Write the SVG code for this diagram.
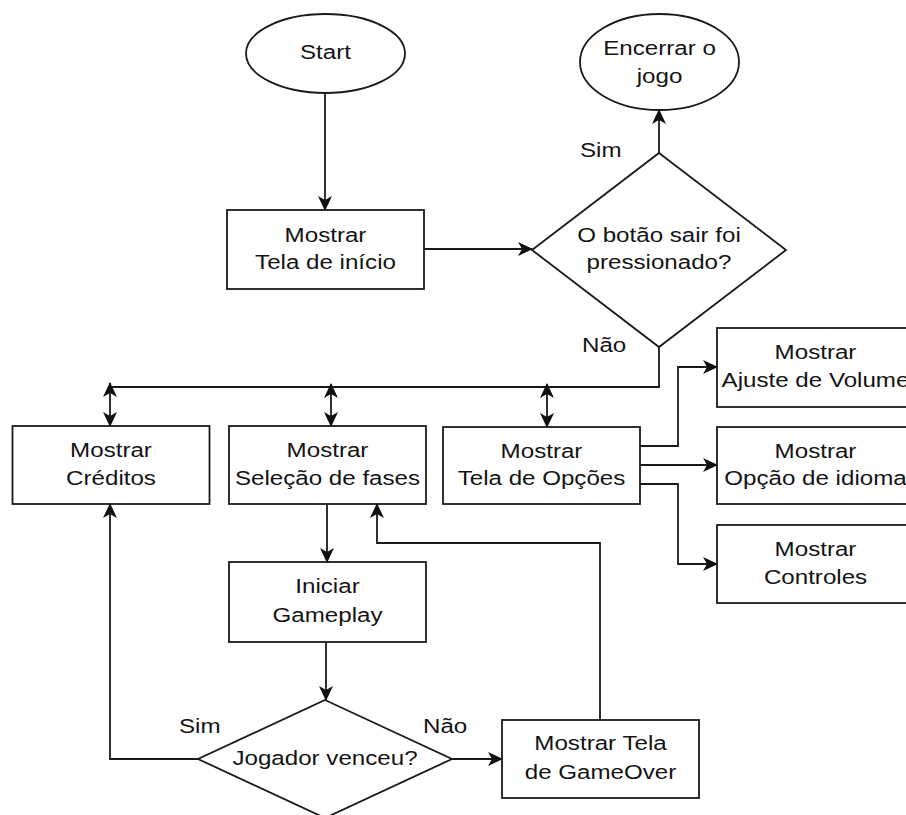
<svg xmlns="http://www.w3.org/2000/svg" width="906" height="815" viewBox="0 0 906 815">
  <style>
    .shape { fill: #ffffff; stroke: #1a1a1a; stroke-width: 1.8; }
    .edge { fill: none; stroke: #1a1a1a; stroke-width: 1.8; }
    .t { font-family: "Liberation Sans", Arial, sans-serif; font-size: 21px; fill: #141414; text-anchor: middle; }
    .lbl { font-family: "Liberation Sans", Arial, sans-serif; font-size: 21px; fill: #141414; }
  </style>
  <defs>
    <!-- classic filled arrowhead with a notched back -->
    <marker id="arrow" markerUnits="userSpaceOnUse" markerWidth="18" markerHeight="16" refX="14" refY="7" orient="auto-start-reverse" viewBox="0 0 18 16">
      <path d="M0,0 L15,7 L0,14 L4,7 Z" fill="#111111"/>
    </marker>
  </defs>

  <rect width="906" height="815" fill="#ffffff"/>

  <!-- connectors -->
  <g id="connectors">
    <path class="edge" d="M325,93 V210" marker-end="url(#arrow)"/>
    <path class="edge" d="M424,249 H532" marker-end="url(#arrow)"/>
    <path class="edge" d="M659,153 V110" marker-end="url(#arrow)"/>
    <path class="edge" d="M659,347 V387 H110"/>
    <path class="edge" d="M110,383 V426" marker-start="url(#arrow)" marker-end="url(#arrow)"/>
    <path class="edge" d="M331,384 V426" marker-start="url(#arrow)" marker-end="url(#arrow)"/>
    <path class="edge" d="M547,384 V427" marker-start="url(#arrow)" marker-end="url(#arrow)"/>
    <path class="edge" d="M327,504 V562" marker-end="url(#arrow)"/>
    <path class="edge" d="M326,642 V700" marker-end="url(#arrow)"/>
    <path class="edge" d="M198,759 H110 V504" marker-end="url(#arrow)"/>
    <path class="edge" d="M452,759 H502" marker-end="url(#arrow)"/>
    <path class="edge" d="M600,720 V543 H377 V504" marker-end="url(#arrow)"/>
    <path class="edge" d="M640,446 H678 V367 H717" marker-end="url(#arrow)"/>
    <path class="edge" d="M640,465 H717" marker-end="url(#arrow)"/>
    <path class="edge" d="M640,484 H678 V564 H717" marker-end="url(#arrow)"/>
  </g>

  <!-- edge labels -->
  <g id="labels">
    <text class="lbl" transform="translate(580,157) scale(1.15,1)">Sim</text>
    <text class="lbl" transform="translate(582,352) scale(1.15,1)">Não</text>
    <text class="lbl" transform="translate(179,733) scale(1.15,1)">Sim</text>
    <text class="lbl" transform="translate(423,733) scale(1.15,1)">Não</text>
  </g>

  <g id="start">
    <ellipse class="shape" cx="325.5" cy="53.5" rx="79.5" ry="39.5"/>
    <text class="t" transform="translate(325.5,59) scale(1.15,1)">Start</text>
  </g>

  <g id="encerrar">
    <ellipse class="shape" cx="659.5" cy="62" rx="79.5" ry="48"/>
    <text class="t" transform="translate(659.5,55) scale(1.15,1)"><tspan x="0" y="0">Encerrar o</tspan><tspan x="0" y="28">jogo</tspan></text>
  </g>

  <g id="tela-inicio">
    <rect class="shape" x="227" y="210" width="197" height="79"/>
    <text class="t" transform="translate(325.5,249.5) scale(1.15,1)"><tspan x="0" y="-8">Mostrar</tspan><tspan x="0" y="19.7">Tela de início</tspan></text>
  </g>

  <g id="botao-sair">
    <polygon class="shape" points="659,153 786,250 659,347 532,250"/>
    <text class="t" transform="translate(659,250) scale(1.15,1)"><tspan x="0" y="-8">O botão sair foi</tspan><tspan x="0" y="19.5">pressionado?</tspan></text>
  </g>

  <g id="creditos">
    <rect class="shape" x="12.5" y="426" width="197" height="78"/>
    <text class="t" transform="translate(111,465) scale(1.15,1)"><tspan x="0" y="-8">Mostrar</tspan><tspan x="0" y="19.7">Créditos</tspan></text>
  </g>

  <g id="selecao-fases">
    <rect class="shape" x="229" y="426" width="197" height="78"/>
    <text class="t" transform="translate(327.5,465) scale(1.15,1)"><tspan x="0" y="-8">Mostrar</tspan><tspan x="0" y="19.7">Seleção de fases</tspan></text>
  </g>

  <g id="tela-opcoes">
    <rect class="shape" x="443" y="427" width="197" height="77"/>
    <text class="t" transform="translate(541.5,465.5) scale(1.15,1)"><tspan x="0" y="-8">Mostrar</tspan><tspan x="0" y="19.7">Tela de Opções</tspan></text>
  </g>

  <g id="ajuste-volume">
    <rect class="shape" x="717" y="328" width="197" height="79"/>
    <text class="t" transform="translate(815.5,367.5) scale(1.15,1)"><tspan x="0" y="-8.5">Mostrar</tspan><tspan x="0" y="19.5">Ajuste de Volume</tspan></text>
  </g>

  <g id="opcao-idioma">
    <rect class="shape" x="717" y="427" width="197" height="77"/>
    <text class="t" transform="translate(815.5,465.5) scale(1.15,1)"><tspan x="0" y="-8">Mostrar</tspan><tspan x="0" y="19.7">Opção de idioma</tspan></text>
  </g>

  <g id="controles">
    <rect class="shape" x="717" y="525" width="197" height="78"/>
    <text class="t" transform="translate(815.5,564) scale(1.15,1)"><tspan x="0" y="-8">Mostrar</tspan><tspan x="0" y="19.7">Controles</tspan></text>
  </g>

  <g id="iniciar-gameplay">
    <rect class="shape" x="229" y="562" width="197" height="80"/>
    <text class="t" transform="translate(327.5,602) scale(1.15,1)"><tspan x="0" y="-9">Iniciar</tspan><tspan x="0" y="19.7">Gameplay</tspan></text>
  </g>

  <g id="jogador-venceu">
    <polygon class="shape" points="325,700 452,759 325,818 198,759"/>
    <text class="t" transform="translate(325,765) scale(1.15,1)">Jogador venceu?</text>
  </g>

  <g id="gameover">
    <rect class="shape" x="502" y="720" width="197" height="78"/>
    <text class="t" transform="translate(600.5,759) scale(1.15,1)"><tspan x="0" y="-9">Mostrar Tela</tspan><tspan x="0" y="20">de GameOver</tspan></text>
  </g>
</svg>
